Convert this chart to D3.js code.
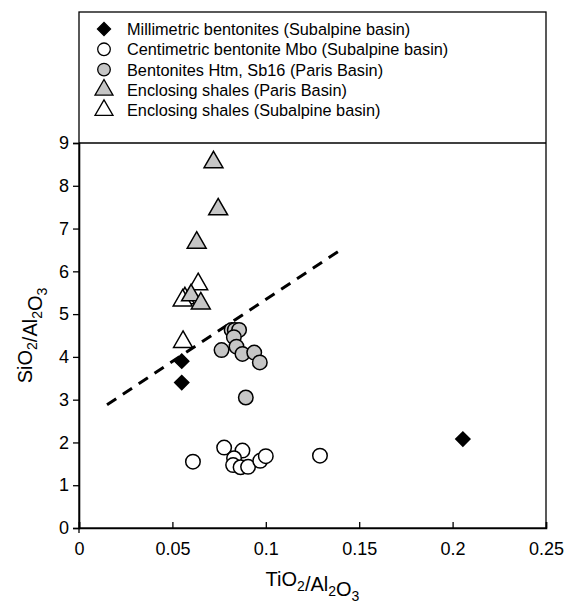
<!DOCTYPE html>
<html>
<head>
<meta charset="utf-8">
<script src="https://cdn.jsdelivr.net/npm/d3@7"></script>
<style>
    body { margin: 0; background: #fff; }
    text { font-family: "Liberation Sans", Arial, sans-serif; fill: #000; }
</style>
</head>
<body>
<div id="chart"></div>
<script>
// Millimetric bentonites (Subalpine basin)
const milliX = [0.055, 0.055, 0.2055];
const milliY = [3.9, 3.4, 2.08];
// Centimetric bentonite Mbo (Subalpine basin)
const centiX = [0.061, 0.0777, 0.0875, 0.083, 0.0825, 0.0865, 0.0905, 0.097, 0.1, 0.129];
const centiY = [1.55, 1.88, 1.81, 1.63, 1.47, 1.42, 1.43, 1.57, 1.68, 1.69];
// Bentonites Htm, Sb16 (Paris Basin)
const htmX = [0.0817, 0.0834, 0.0857, 0.0829, 0.0763, 0.0843, 0.0875, 0.0938, 0.0968, 0.0893];
const htmY = [4.63, 4.63, 4.63, 4.46, 4.16, 4.24, 4.07, 4.1, 3.87, 3.05];
// Enclosing shales (Paris Basin)
const parisShX = [0.072, 0.0745, 0.063, 0.06, 0.0652];
const parisShY = [8.55, 7.45, 6.67, 5.44, 5.25];
// Enclosing shales (Subalpine basin)
const subShX = [0.0638, 0.0567, 0.0555, 0.0557];
const subShY = [5.7, 5.37, 5.32, 4.35];
// dashed separation line
const lineX = [0.015, 0.141];
const lineY = [2.88, 6.53];

const xTicks = [0, 0.05, 0.1, 0.15, 0.2, 0.25];
const yTicks = [0, 1, 2, 3, 4, 5, 6, 7, 8, 9];
const legendLabels = [
    "Millimetric bentonites (Subalpine basin)",
    "Centimetric bentonite Mbo (Subalpine basin)",
    "Bentonites Htm, Sb16 (Paris Basin)",
    "Enclosing shales (Paris Basin)",
    "Enclosing shales (Subalpine basin)"
];

const width = 572, height = 606;
const mLeft = 79, mRight = 546, mTop = 143, mBottom = 528, legendTop = 12;

const svg = d3.select("#chart").append("svg")
    .attr("width", width)
    .attr("height", height);

const x = d3.scaleLinear().domain([0, 0.25]).range([mLeft, mRight]);
const y = d3.scaleLinear().domain([0, 9]).range([mBottom, mTop]);

const grey = "#c6c6c6";

// frame: legend box + plot box
svg.append("rect")
    .attr("x", mLeft).attr("y", legendTop)
    .attr("width", mRight - mLeft).attr("height", mBottom - legendTop)
    .attr("fill", "none").attr("stroke", "#000").attr("stroke-width", 1.3);
svg.append("line")
    .attr("x1", mLeft).attr("x2", mRight)
    .attr("y1", mTop).attr("y2", mTop)
    .attr("stroke", "#000").attr("stroke-width", 1.3);

// axes
const yAxis = svg.append("g")
    .attr("transform", `translate(${mLeft},0)`)
    .call(d3.axisLeft(y).tickValues(yTicks).tickSize(6).tickPadding(4));
const xAxis = svg.append("g")
    .attr("transform", `translate(0,${mBottom})`)
    .call(d3.axisBottom(x).tickValues(xTicks).tickSize(-6).tickPadding(14)
        .tickFormat(d => d === 0 ? "0" : String(d)));
[yAxis, xAxis].forEach(g => {
    g.select(".domain").attr("stroke-width", 1.6);
    g.selectAll(".tick line").attr("stroke-width", 1.3);
    g.selectAll("text").style("font-size", "18px")
        .style("font-family", '"Liberation Sans", Arial, sans-serif');
});
// small downward stub at the origin
svg.append("line")
    .attr("x1", x(0)).attr("x2", x(0))
    .attr("y1", mBottom).attr("y2", mBottom + 5)
    .attr("stroke", "#000").attr("stroke-width", 1.3);

// axis titles with subscripts
function chemTitle(sel, parts) {
    parts.forEach(p => {
        if (p.sub) {
            sel.append("tspan").attr("dy", 5).style("font-size", "14px").text(p.t);
            sel.append("tspan").attr("dy", -5).text("");
        } else {
            sel.append("tspan").text(p.t);
        }
    });
}
const xTitle = svg.append("text")
    .attr("x", (mLeft + mRight) / 2).attr("y", 586)
    .attr("text-anchor", "middle").style("font-size", "20px");
chemTitle(xTitle, [{t: "TiO"}, {t: "2", sub: true}, {t: "/Al"}, {t: "2", sub: true}, {t: "O"}, {t: "3", sub: true}]);

const yTitle = svg.append("text")
    .attr("transform", `translate(32,${(mTop + mBottom) / 2}) rotate(-90)`)
    .attr("text-anchor", "middle").style("font-size", "20px");
chemTitle(yTitle, [{t: "SiO"}, {t: "2", sub: true}, {t: "/Al"}, {t: "2", sub: true}, {t: "O"}, {t: "3", sub: true}]);

// dashed line
svg.append("path")
    .datum(lineX.map((v, i) => [v, lineY[i]]))
    .attr("d", d3.line().x(d => x(d[0])).y(d => y(d[1])))
    .attr("fill", "none").attr("stroke", "#000")
    .attr("stroke-width", 3).attr("stroke-dasharray", "11,8");

// marker shapes
const circle = d3.symbol().type(d3.symbolCircle).size(165);
const diamond = d3.symbol().type(d3.symbolSquare).size(100);
const triangle = d3.symbol().type(d3.symbolTriangle).size(155);

function drawSeries(xs, ys, sym, fill, rotate) {
    svg.append("g").selectAll("path")
        .data(xs.map((v, i) => [v, ys[i]]))
        .join("path")
        .attr("d", sym)
        .attr("transform", d => `translate(${x(d[0])},${y(d[1])})` + (rotate ? " rotate(45)" : ""))
        .attr("fill", fill)
        .attr("stroke", "#000")
        .attr("stroke-width", 1.5);
}

drawSeries(centiX, centiY, circle, "#fff");
drawSeries(htmX, htmY, circle, grey);
drawSeries(subShX, subShY, triangle, "#fff");
drawSeries(parisShX, parisShY, triangle, grey);
drawSeries(milliX, milliY, diamond, "#000", true);

// legend
const legendSyms = [
    {type: d3.symbolSquare, size: 85, fill: "#000", rot: true},
    {type: d3.symbolCircle, size: 125, fill: "#fff"},
    {type: d3.symbolCircle, size: 125, fill: grey},
    {type: d3.symbolTriangle, size: 140, fill: grey},
    {type: d3.symbolTriangle, size: 140, fill: "#fff"}
];
const legend = svg.append("g");
legendLabels.forEach((label, i) => {
    const cy = 29 + i * 20.3;
    const s = legendSyms[i];
    legend.append("path")
        .attr("d", d3.symbol().type(s.type).size(s.size)())
        .attr("transform", `translate(104,${cy})` + (s.rot ? " rotate(45)" : ""))
        .attr("fill", s.fill).attr("stroke", "#000").attr("stroke-width", 1.3);
    legend.append("text")
        .attr("x", 127).attr("y", cy + 6)
        .style("font-size", "16.3px")
        .text(label);
});
</script>
</body>
</html>
